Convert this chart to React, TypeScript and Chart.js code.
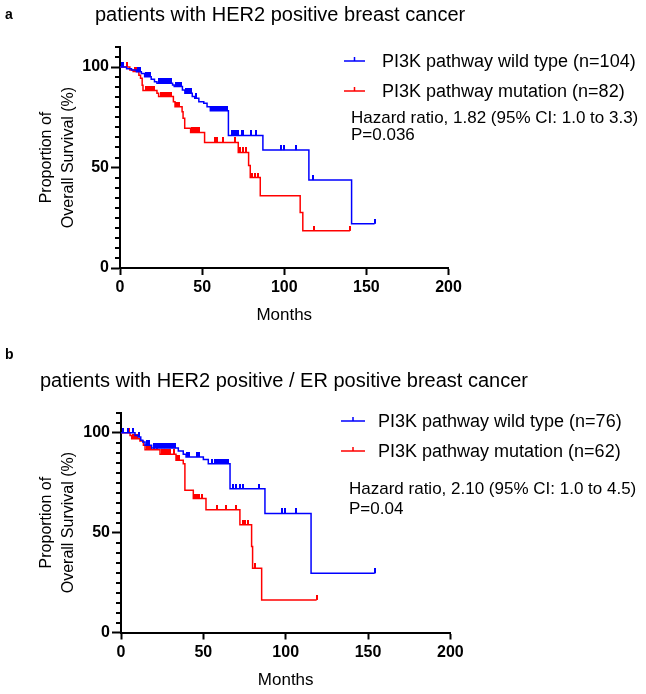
import React, { useEffect, useRef } from 'react';
import { Chart, registerables } from 'chart.js';

Chart.register(...registerables);

const FONT = '"Liberation Sans", Arial, Helvetica, sans-serif';
const BLUE = '#0000ff';
const RED = '#ff0000';

// ---- axis ticks ----
const monthTicks = [0, 50, 100, 150, 200];
const survivalTicks = [0, 50, 100];
const survivalMinorTicks = [5, 10, 15, 20, 25, 30, 35, 40, 45, 55, 60, 65, 70, 75, 80, 85, 90, 95, 105, 110];

const groupLabels = ['PI3K pathway wild type', 'PI3K pathway mutation'];
const xTitle = 'Months';
const yTitle = ['Proportion of', 'Overall Survival (%)'];

// ---- panel a ----
const aLetter = 'a';
const aTitle = 'patients with HER2 positive breast cancer';
const aCounts = [104, 82];
const aStats = ['Hazard ratio, 1.82 (95% CI: 1.0 to 3.3)', 'P=0.036'];
const aWildTimes = [0, 4, 7, 10, 13, 15, 19, 21, 22.5, 32, 33, 38, 39.5, 44, 45.5, 48, 51, 53, 55, 66, 87, 115, 141, 155];
const aWildSurv = [100, 99.2, 98.5, 97.7, 96.8, 95.2, 93.9, 92.7, 91.9, 91.1, 90.3, 88.6, 87, 85.3, 84.5, 82.8, 82, 80.3, 78.3, 66, 58.7, 43.8, 22, 22];
const aWildCensor = [1, 2, 11, 12, 16, 17, 18, 24, 25, 26, 27, 28, 29, 30, 31, 34, 35, 36, 37, 40, 41, 42, 43, 46, 56, 57, 58, 59, 60, 61, 62, 63, 64, 65, 68, 69, 70, 71, 72, 74, 75, 80, 83, 98, 100, 107, 117.5, 155];
const aMutTimes = [0, 6, 8, 11.5, 12.5, 13.5, 14, 22.5, 23.5, 32.5, 33.5, 37.8, 38.4, 39.4, 43, 51.5, 72, 78.3, 79.3, 85.4, 109.7, 111.3, 140];
const aMutSurv = [100, 98.6, 97.8, 96, 94.4, 91, 88.3, 87, 85.3, 82.8, 80.3, 77.8, 74.5, 69.5, 67.5, 62.5, 57.5, 51, 45, 36, 27.6, 18.5, 18.5];
const aMutCensor = [4, 9, 10, 16, 17, 18, 19, 20, 21, 25, 26, 27, 28, 29, 30, 31, 34, 35, 36, 44, 45, 46, 47, 48, 58, 59, 63, 70, 73, 75, 77, 80.5, 82, 84, 118, 140];

// ---- panel b ----
const bLetter = 'b';
const bTitle = 'patients with HER2 positive / ER positive breast cancer';
const bCounts = [76, 62];
const bStats = ['Hazard ratio, 2.10 (95% CI: 1.0 to 4.5)', 'P=0.04'];
const bWildTimes = [0, 8.5, 10.5, 12, 13.2, 14.6, 18.6, 34.8, 37.8, 39.5, 50, 53, 66.2, 87.4, 115.4, 154];
const bWildSurv = [100, 98.6, 97.8, 96.2, 95.3, 93.7, 92.3, 90.8, 89.2, 87.8, 86.6, 84.5, 72, 59.6, 29.6, 29.6];
const bWildCensor = [1.5, 4.5, 7, 11, 16, 17, 20, 21, 22, 23, 24, 25, 26, 27, 28, 29, 30, 31, 32, 33, 40, 41.5, 46, 47.5, 55, 57, 58, 59, 60, 61, 62, 63, 64, 65, 68, 70, 72, 74, 83.5, 97.5, 99.5, 106.5, 154];
const bMutTimes = [0, 5.5, 6.5, 11.5, 13.6, 14.6, 23.7, 33.4, 37.8, 38.8, 43.9, 51.6, 72.2, 79.3, 79.9, 85.4, 118.8];
const bMutSurv = [100, 98.6, 97, 95.8, 93.7, 91.5, 89.2, 86.2, 84.5, 71.2, 67, 61.4, 53.9, 43, 32.2, 16.3, 16.3];
const bMutCensor = [1, 5, 7.5, 8.5, 9.5, 16, 17, 18, 20, 22, 25, 26, 27, 28, 29, 30, 32, 34, 35.5, 44.5, 45.5, 46.5, 47.5, 49, 58, 64, 70, 74, 75.5, 77.3, 81.3, 118.8];

function stepValue(times: number[], surv: number[], t: number) {
  let v = surv[0];
  for (let i = 0; i < times.length; i++) {
    if (times[i] <= t) v = surv[i];
  }
  return v;
}

function makeTickImage(color: string) {
  const c = document.createElement('canvas');
  c.width = 2;
  c.height = 10;
  const g = c.getContext('2d')!;
  g.fillStyle = color;
  g.fillRect(0, 0, 2, 5);
  return c;
}

function makeChart(canvas: HTMLCanvasElement, p: any, L: any) {
  const blueTick = makeTickImage(BLUE);
  const redTick = makeTickImage(RED);
  const wildLine = p.wildTimes.map((t: number, i: number) => ({ x: t, y: p.wildSurv[i] }));
  const mutLine = p.mutTimes.map((t: number, i: number) => ({ x: t, y: p.mutSurv[i] }));
  const wildCens = p.wildCensor.map((t: number) => ({ x: t, y: stepValue(p.wildTimes, p.wildSurv, t) }));
  const mutCens = p.mutCensor.map((t: number) => ({ x: t, y: stepValue(p.mutTimes, p.mutSurv, t) }));

  const overlay = {
    id: 'overlay',
    afterDraw(chart: any) {
      const ctx = chart.ctx;
      ctx.save();
      const ys = chart.scales.y;
      const axisX = ys.right;
      ctx.strokeStyle = '#000';
      ctx.lineWidth = 2;
      for (const v of survivalMinorTicks) {
        const py = Math.round(ys.getPixelForValue(v));
        ctx.beginPath();
        ctx.moveTo(axisX - 5, py);
        ctx.lineTo(axisX, py);
        ctx.stroke();
      }
      ctx.fillStyle = '#000';
      ctx.textAlign = 'left';
      ctx.textBaseline = 'alphabetic';
      ctx.font = `bold 14px ${FONT}`;
      ctx.fillText(p.letter, L.letterX, L.letterY);
      ctx.font = `20px ${FONT}`;
      ctx.fillText(p.title, L.titleX, L.titleY);

      const colors = [BLUE, RED];
      for (let i = 0; i < 2; i++) {
        const sy = L.legSymY[i];
        ctx.strokeStyle = colors[i];
        ctx.lineWidth = 1.5;
        ctx.beginPath();
        ctx.moveTo(L.legSymX1, sy);
        ctx.lineTo(L.legSymX2, sy);
        const mid = (L.legSymX1 + L.legSymX2) / 2;
        ctx.moveTo(mid, sy);
        ctx.lineTo(mid, sy - 4);
        ctx.stroke();
        ctx.fillStyle = '#000';
        ctx.font = `18px ${FONT}`;
        ctx.fillText(`${groupLabels[i]} (n=${p.counts[i]})`, L.legTextX, L.legTextY[i]);
      }
      ctx.font = `17px ${FONT}`;
      p.stats.forEach((s: string, i: number) => {
        ctx.fillText(s, L.statX, L.statY[i]);
      });
      ctx.restore();
    },
  };

  const tickFont = { family: FONT, size: 16, weight: 'bold' };
  return new Chart(canvas, {
    type: 'line',
    data: {
      datasets: [
        { data: wildCens, showLine: false, pointStyle: blueTick, pointRadius: 3, borderColor: BLUE, backgroundColor: BLUE },
        { data: wildLine, borderColor: BLUE, borderWidth: 1.5, stepped: true, pointRadius: 0, fill: false },
        { data: mutCens, showLine: false, pointStyle: redTick, pointRadius: 3, borderColor: RED, backgroundColor: RED },
        { data: mutLine, borderColor: RED, borderWidth: 1.5, stepped: true, pointRadius: 0, fill: false },
      ],
    },
    options: {
      animation: false,
      responsive: false,
      devicePixelRatio: 1,
      events: [],
      layout: { padding: { top: L.padTop, right: L.padRight, bottom: L.padBottom, left: 0 } },
      plugins: { legend: { display: false }, tooltip: { enabled: false }, title: { display: false } },
      scales: {
        x: {
          type: 'linear',
          min: 0,
          max: 200,
          afterBuildTicks: (s: any) => { s.ticks = monthTicks.map((v) => ({ value: v })); },
          afterFit: (s: any) => { s.height = 58; },
          grid: { display: true, drawOnChartArea: false, drawTicks: true, tickLength: 7, tickWidth: 2, tickColor: '#000' },
          border: { display: true, color: '#000', width: 2 },
          ticks: { color: '#000', font: tickFont, padding: 3, maxRotation: 0, autoSkip: false },
          title: { display: true, text: xTitle, color: '#000', font: { family: FONT, size: 17 }, padding: 0 },
        },
        y: {
          type: 'linear',
          min: 0,
          max: 110,
          afterBuildTicks: (s: any) => { s.ticks = survivalTicks.map((v) => ({ value: v })); },
          afterFit: (s: any) => { s.width = L.yWidth; },
          grid: { display: true, drawOnChartArea: false, drawTicks: true, tickLength: 9, tickWidth: 2, tickColor: '#000' },
          border: { display: true, color: '#000', width: 2 },
          ticks: { color: '#000', font: tickFont, padding: 2, autoSkip: false },
          title: {
            display: true,
            text: yTitle,
            color: '#000',
            font: { family: FONT, size: 16, lineHeight: 1.35 },
            padding: { top: 36, bottom: 0 },
          },
        },
      },
    } as any,
    plugins: [overlay],
  } as any);
}

const panelA = {
  letter: aLetter, title: aTitle, counts: aCounts, stats: aStats,
  wildTimes: aWildTimes, wildSurv: aWildSurv, wildCensor: aWildCensor,
  mutTimes: aMutTimes, mutSurv: aMutSurv, mutCensor: aMutCensor,
};
const panelB = {
  letter: bLetter, title: bTitle, counts: bCounts, stats: bStats,
  wildTimes: bWildTimes, wildSurv: bWildSurv, wildCensor: bWildCensor,
  mutTimes: bMutTimes, mutSurv: bMutSurv, mutCensor: bMutCensor,
};

const layoutA = {
  padTop: 47, padRight: 197.5, padBottom: 14, yWidth: 120,
  letterX: 5, letterY: 19, titleX: 95, titleY: 21,
  legSymX1: 344, legSymX2: 365, legSymY: [61, 91], legTextX: 382, legTextY: [66.7, 96.7],
  statX: 351, statY: [123.3, 140],
};
const layoutB = {
  padTop: 72.7, padRight: 195.6, padBottom: 3.5, yWidth: 121,
  letterX: 5, letterY: 19, titleX: 40, titleY: 47,
  legSymX1: 341, legSymX2: 365, legSymY: [81, 111], legTextX: 378, legTextY: [87.3, 117.3],
  statX: 349, statY: [154, 174],
};

export default function App() {
  const refA = useRef<HTMLCanvasElement>(null);
  const refB = useRef<HTMLCanvasElement>(null);
  useEffect(() => {
    const charts = [makeChart(refA.current!, panelA, layoutA), makeChart(refB.current!, panelB, layoutB)];
    return () => charts.forEach((c) => c.destroy());
  }, []);
  return (
    <div style={{ position: 'absolute', left: 0, top: 0, width: 646, height: 694, background: '#fff' }}>
      <canvas ref={refA} width={646} height={340} style={{ position: 'absolute', left: 0, top: 0, width: 646, height: 340 }} />
      <canvas ref={refB} width={646} height={354} style={{ position: 'absolute', left: 0, top: 340, width: 646, height: 354 }} />
    </div>
  );
}
